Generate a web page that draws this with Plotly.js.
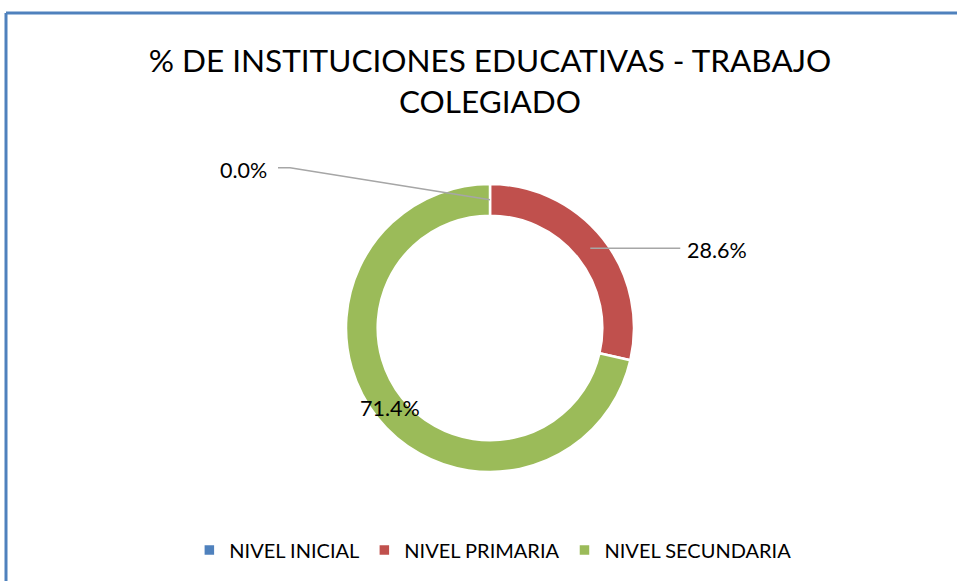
<!DOCTYPE html>
<html>
<head>
<meta charset="utf-8">
<script src="https://cdn.plot.ly/plotly-3.0.1.min.js"></script>
<style>html,body{margin:0;padding:0;background:#fff;}#chart{width:957px;height:581px;}</style>
</head>
<body>
<div id="chart"></div>
<script>
const categories = ["NIVEL INICIAL", "NIVEL PRIMARIA", "NIVEL SECUNDARIA"];
const values = [0.0, 28.6, 71.4];
const colors = ["#4F81BD", "#C0504D", "#9BBB59"];
const titleText = "% DE INSTITUCIONES EDUCATIVAS - TRABAJO<br>COLEGIADO";

const W = 957, H = 581;
const FONT = "Lato, 'Open Sans', sans-serif";
// donut geometry (pixels)
const cx = 490, cy = 328, R = 144, hole = 0.78;
const dom = {x: [(cx - R) / W, (cx + R) / W], y: [1 - (cy + R) / H, 1 - (cy - R) / H]};

const total = values.reduce((a, b) => a + b, 0);
const midR = R * (1 + hole) / 2;
let cum = 0;
const annotations = [];
const shapes = [];
const px = x => x / W, py = y => 1 - y / H;
const LBL = {family: FONT, size: 21.5, color: "#000"};
values.forEach((v, i) => {
  const mid = (cum + v / 2) / total * 2 * Math.PI;
  cum += v;
  const x0 = cx + midR * Math.sin(mid), y0 = cy - midR * Math.cos(mid);
  const label = v.toFixed(1) + "%";
  if (i === 0) {
    const ex = x0 - 212, ey = y0 - 32;
    shapes.push({type: "path", xref: "paper", yref: "paper",
      path: `M${px(x0)},${py(y0)} L${px(ex + 12)},${py(ey)} L${px(ex)},${py(ey)}`,
      line: {color: "#A6A6A6", width: 1.5}});
    annotations.push({x: px(ex - 9), y: py(ey + 2), xref: "paper", yref: "paper", text: label,
      showarrow: false, xanchor: "right", yanchor: "middle", font: LBL});
  } else if (i === 1) {
    const ex = x0 + 90;
    shapes.push({type: "line", xref: "paper", yref: "paper", x0: px(x0), y0: py(y0), x1: px(ex), y1: py(y0),
      line: {color: "#A6A6A6", width: 1.5}});
    annotations.push({x: px(ex + 5), y: py(y0 + 2), xref: "paper", yref: "paper", text: label,
      showarrow: false, xanchor: "left", yanchor: "middle", font: LBL});
  } else {
    annotations.push({x: px(x0), y: py(y0), xref: "paper", yref: "paper", text: label,
      showarrow: false, xanchor: "center", yanchor: "middle", font: LBL});
  }
});

// chart border (top and left visible)
shapes.push({type: "line", xref: "paper", yref: "paper", x0: px(6), y0: py(13), x1: 1.01, y1: py(13), line: {color: "#4F81BD", width: 3}});
shapes.push({type: "line", xref: "paper", yref: "paper", x0: px(6), y0: py(13), x1: px(6), y1: -0.01, line: {color: "#4F81BD", width: 3}});

const data = [{
  type: "pie",
  labels: categories,
  values: values,
  hole: hole,
  sort: false,
  direction: "clockwise",
  rotation: 0,
  marker: {colors: colors, line: {color: "#ffffff", width: 2.5}},
  textinfo: "none",
  domain: dom,
  hoverinfo: "label+percent"
}];

const layout = {
  width: W, height: H,
  margin: {l: 0, r: 0, t: 0, b: 0},
  paper_bgcolor: "#fff",
  title: {text: titleText, x: 0.512, xanchor: "center", y: 1 - 72 / H, yanchor: "middle",
    font: {family: FONT, size: 31.5, color: "#000"}},
  showlegend: true,
  legend: {orientation: "h", x: 0.515, xanchor: "center", y: py(550), yanchor: "middle",
    font: {family: FONT, size: 20, color: "#000"}, itemwidth: 30, traceorder: "normal"},
  shapes: shapes,
  annotations: annotations
};
Plotly.newPlot("chart", data, layout, {displayModeBar: false, staticPlot: true});
</script>
</body>
</html>
